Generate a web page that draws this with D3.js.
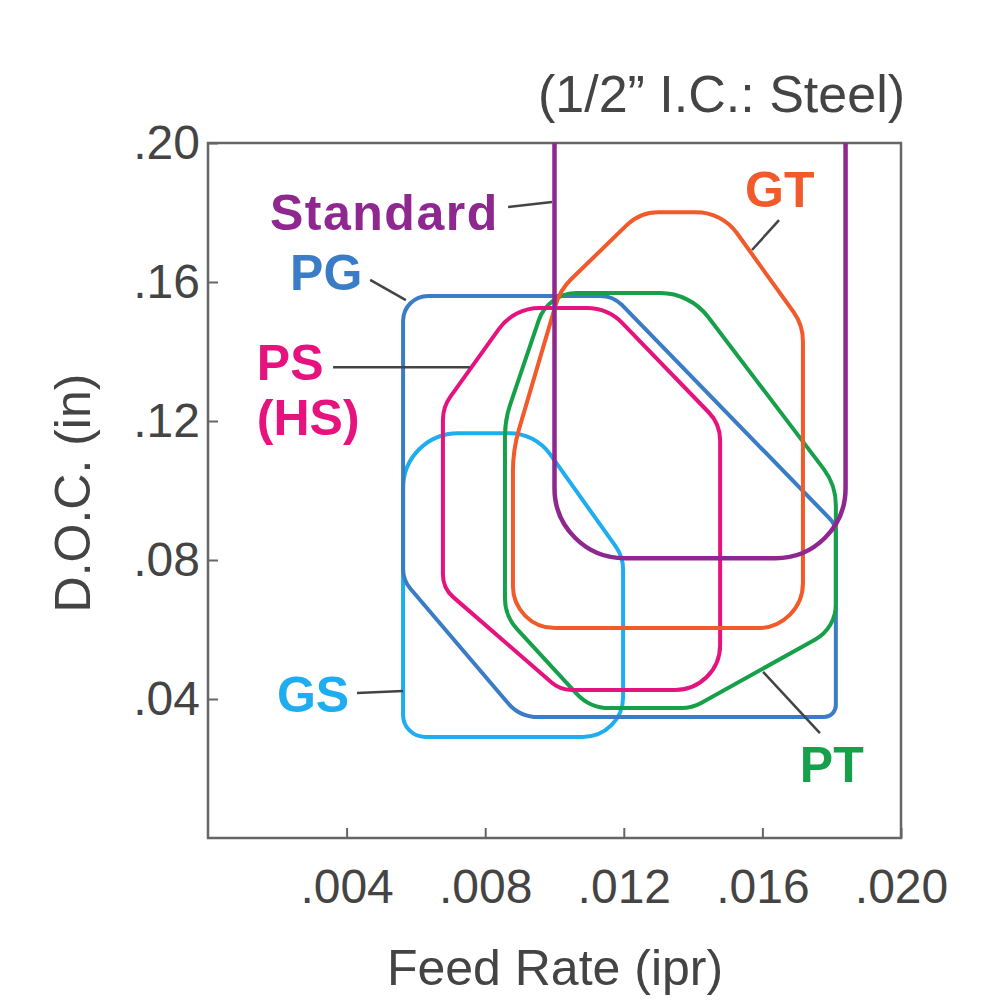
<!DOCTYPE html>
<html>
<head>
<meta charset="utf-8">
<script src="https://cdn.jsdelivr.net/npm/d3@7"></script>
<style>
  body { margin: 0; background: #fff; }
  text { font-family: "Liberation Sans", Arial, Helvetica, sans-serif; }
</style>
</head>
<body>
<div id="chart"></div>
<script>
// chart values: outlines of each grade's working range, [feed rate (ipr), D.O.C. (in)]
var gradeNames = ["GS", "PG", "PT", "PS", "GT", "Standard"];

var gsOutline  = [[0.00563, 0.1165], [0.00944, 0.1165], [0.01198, 0.0809], [0.01198, 0.0291], [0.00563, 0.0291]];
var pgOutline  = [[0.00563, 0.1560], [0.01169, 0.1560], [0.01812, 0.0901], [0.01812, 0.0348], [0.00900, 0.0348], [0.00563, 0.0742]];
var ptOutline  = [[0.00857, 0.1203], [0.00981, 0.1568], [0.01391, 0.1568], [0.01812, 0.1016], [0.01812, 0.0604], [0.01397, 0.0374], [0.01102, 0.0374], [0.00857, 0.0639]];
var psOutline  = [[0.00678, 0.1240], [0.00883, 0.1525], [0.01154, 0.1525], [0.01478, 0.1191], [0.01478, 0.0426], [0.01016, 0.0426], [0.00678, 0.0719]];
var gtOutline  = [[0.00880, 0.0604], [0.00880, 0.1117], [0.01016, 0.1577], [0.01247, 0.1801], [0.01483, 0.1801], [0.01717, 0.1476], [0.01717, 0.0604]];
var stdOutline = [[0.0100, 0.20], [0.0100, 0.0805], [0.0184, 0.0805], [0.0184, 0.20]];

var xTicks = [0.004, 0.008, 0.012, 0.016, 0.020];
var xTickLabels = [".004", ".008", ".012", ".016", ".020"];
var yTicks = [0.04, 0.08, 0.12, 0.16, 0.20];
var yTickLabels = [".04", ".08", ".12", ".16", ".20"];

// label anchors and leader lines (data units)
var labelText = [["GS"], ["PG"], ["PT"], ["PS", "(HS)"], ["GT"], ["Standard"]];
var labelAt = [[0.00199, 0.0363], [0.00237, 0.1577], [0.01708, 0.0161], [0.00141, 0.1318], [0.0155, 0.1816], [0.00179, 0.1750]];
var leaders = [
  [[0.0043, 0.0417], [0.00563, 0.0423]],
  [[0.00468, 0.1606], [0.00571, 0.1548]],
  [[0.01602, 0.0478], [0.01766, 0.0302]],
  [[0.00361, 0.1355], [0.00756, 0.1355]],
  [[0.0157, 0.1692], [0.01648, 0.1778]],
  [[0.00866, 0.1816], [0.00993, 0.1830]]
];

// styling
var colors = ["#1eadef", "#3b7cc6", "#17a04a", "#e6137f", "#f15a2b", "#8e278f"];
var corners = [
  [55, 50, 40, 40, 22],
  [25, 30, 20, 12, 40, 30],
  [100, 40, 60, 60, 40, 40, 45, 45],
  [40, 50, 50, 40, 45, 30, 30],
  [42, 150, 60, 45, 50, 50, 45],
  [0, 70, 70, 0]
];
var outlines = [gsOutline, pgOutline, ptOutline, psOutline, gtOutline, stdOutline];

var width = 1000, height = 1000;

var svg = d3.select("#chart")
  .append("svg")
    .attr("width", width)
    .attr("height", height);

var x = d3.scaleLinear().domain([0, 0.020]).range([208, 901]);
var y = d3.scaleLinear().domain([0, 0.20]).range([838, 143]);

// rounded polygon through the outline vertices
function roundedPath(pts, radii, closed) {
  var p = d3.path();
  var P = pts.map(function(d) { return [x(d[0]), y(d[1])]; });
  var n = P.length;
  if (closed) {
    p.moveTo((P[n - 1][0] + P[0][0]) / 2, (P[n - 1][1] + P[0][1]) / 2);
    for (var i = 0; i < n; i++) {
      var a = P[i], b = P[(i + 1) % n];
      p.arcTo(a[0], a[1], b[0], b[1], radii[i]);
    }
    p.closePath();
  } else {
    p.moveTo(P[0][0], P[0][1]);
    for (var j = 1; j < n - 1; j++) {
      p.arcTo(P[j][0], P[j][1], P[j + 1][0], P[j + 1][1], radii[j]);
    }
    p.lineTo(P[n - 1][0], P[n - 1][1]);
  }
  return p.toString();
}

// axes
var xAxis = svg.append("g")
  .attr("transform", "translate(0," + y(0) + ")")
  .call(d3.axisBottom(x).tickValues(xTicks)
    .tickFormat(function(d, i) { return xTickLabels[i]; })
    .tickSizeInner(-10).tickSizeOuter(0).tickPadding(31));

var yAxis = svg.append("g")
  .attr("transform", "translate(" + x(0) + ",0)")
  .call(d3.axisLeft(y).tickValues(yTicks)
    .tickFormat(function(d, i) { return yTickLabels[i]; })
    .tickSizeInner(-10).tickSizeOuter(0).tickPadding(8));

[xAxis, yAxis].forEach(function(ax) {
  ax.select(".domain").remove();
  ax.selectAll(".tick line").attr("stroke", "#666").attr("stroke-width", 2);
  ax.selectAll(".tick text")
    .attr("fill", "#444")
    .style("font-size", "48px")
    .style("font-family", "'Liberation Sans', Arial, sans-serif");
});

// frame
svg.append("rect")
  .attr("x", x(0)).attr("y", y(0.20))
  .attr("width", x(0.020) - x(0)).attr("height", y(0) - y(0.20))
  .attr("fill", "none")
  .attr("stroke", "#666")
  .attr("stroke-width", 2.5);

// outlines
svg.append("g")
  .selectAll("path")
  .data(outlines)
  .enter()
  .append("path")
    .attr("d", function(d, i) { return roundedPath(d, corners[i], gradeNames[i] !== "Standard"); })
    .attr("fill", "none")
    .attr("stroke", function(d, i) { return colors[i]; })
    .attr("stroke-width", function(d, i) { return gradeNames[i] === "Standard" ? 4.5 : 4; })
    .attr("stroke-linejoin", "round");

// leader lines
svg.append("g")
  .selectAll("line")
  .data(leaders)
  .enter()
  .append("line")
    .attr("x1", function(d) { return x(d[0][0]); })
    .attr("y1", function(d) { return y(d[0][1]); })
    .attr("x2", function(d) { return x(d[1][0]); })
    .attr("y2", function(d) { return y(d[1][1]); })
    .attr("stroke", "#444")
    .attr("stroke-width", 2.5);

// grade labels
var labels = svg.append("g")
  .selectAll("text")
  .data(labelText)
  .enter()
  .append("text")
    .attr("x", function(d, i) { return x(labelAt[i][0]); })
    .attr("y", function(d, i) { return y(labelAt[i][1]); })
    .attr("fill", function(d, i) { return colors[i]; })
    .style("font-size", "50px")
    .style("font-weight", "bold")
    .style("letter-spacing", function(d, i) { return gradeNames[i] === "Standard" ? "1.5px" : null; });

labels.selectAll("tspan")
  .data(function(d) { return d; })
  .enter()
  .append("tspan")
    .attr("x", function() { return this.parentNode.getAttribute("x"); })
    .attr("dy", function(d, i) { return i === 0 ? 0 : 55; })
    .text(function(d) { return d; });

// titles
svg.append("text")
  .attr("x", 905).attr("y", 112)
  .attr("text-anchor", "end")
  .attr("fill", "#444")
  .style("font-size", "52px")
  .text("(1/2\u201D I.C.: Steel)");

svg.append("text")
  .attr("x", 555).attr("y", 985)
  .attr("text-anchor", "middle")
  .attr("fill", "#444")
  .style("font-size", "50px")
  .text("Feed Rate (ipr)");

svg.append("text")
  .attr("transform", "translate(90,493) rotate(-90)")
  .attr("text-anchor", "middle")
  .attr("fill", "#444")
  .style("font-size", "50px")
  .text("D.O.C. (in)");
</script>
</body>
</html>
